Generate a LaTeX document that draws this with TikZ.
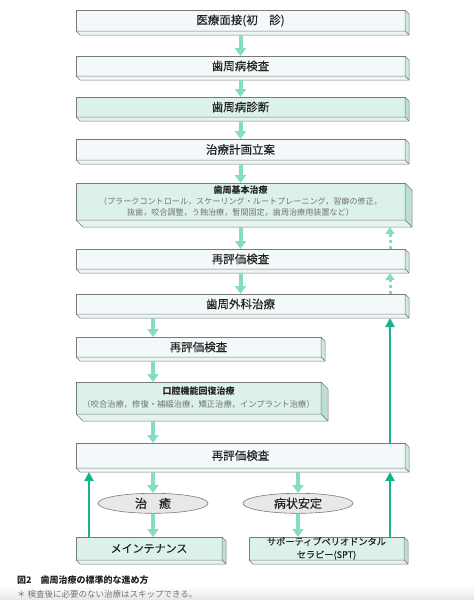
\documentclass[tikz,border=0pt]{standalone}
\usepackage{fontspec}
\newfontfamily\jp{Noto Sans CJK JP}
\newfontfamily\jpm{Noto Sans CJK JP}[FakeBold=0.12]
\usepackage{tikz}
\usetikzlibrary{positioning,calc,arrows.meta,shapes.geometric}
\definecolor{slabline}{HTML}{7A7A7A}
\definecolor{paleface}{HTML}{F3F9FA}
\definecolor{paleside}{HTML}{CFE7DF}
\definecolor{palebottom}{HTML}{EDF6F3}
\definecolor{mintface}{HTML}{DCF1EB}
\definecolor{mintside}{HTML}{BBDFD3}
\definecolor{mintbottom}{HTML}{E5F4EF}
\definecolor{mintarrow}{HTML}{85DCC4}
\definecolor{tealarrow}{HTML}{17B38F}
\definecolor{ovalfill}{HTML}{E8E8E8}
\definecolor{ovalline}{HTML}{7A7A7A}
\definecolor{labeltext}{HTML}{222222}
\definecolor{subgray}{HTML}{737373}
\def\SlabWidth{329pt}
\def\SlabNarrow{245pt}
\def\SlabDepth{4pt}
\def\SlabThick{7pt}
% side and bottom faces of a slab: node, depth, side colour, bottom colour
\newcommand{\slabfaces}[4]{%
  \filldraw[draw=slabline,line width=0.5pt,fill=#3,line join=round]
    (#1.north east) -- ++(#2,-#2) -- ($(#1.south east)+(#2,-#2)$) -- (#1.south east) -- cycle;
  \filldraw[draw=slabline,line width=0.5pt,fill=#4,line join=round]
    (#1.south west) -- (#1.south east) -- ++(#2,-#2) -- ($(#1.south west)+(#2,-#2)$) -- cycle;
}

\begin{document}
\begin{tikzpicture}[
    slab/.style={draw=slabline,line width=0.6pt,fill=paleface,minimum width=\SlabWidth,
      minimum height=21pt,inner sep=0pt,outer sep=0pt,text=labeltext,align=center,
      font=\jpm\fontsize{11.5}{14}\selectfont},
    mintslab/.style={slab,fill=mintface},
    subfont/.style={font=\jp\fontsize{8.1}{11}\selectfont},
    oval/.style={ellipse,draw=ovalline,fill=ovalfill,line width=0.6pt,minimum width=110pt,
      minimum height=20pt,inner sep=0pt,text=labeltext,font=\jpm\fontsize{12}{14}\selectfont},
    flow/.style={draw=mintarrow,line width=4pt,-{Triangle[width=11pt,length=8pt]}},
    back/.style={draw=tealarrow,line width=2.6pt,-{Triangle[width=9pt,length=9pt]}},
    skip/.style={draw=mintarrow,line width=3pt,dash pattern=on 3pt off 3pt,-{Triangle[width=9pt,length=7pt]}},
  ]
  \useasboundingbox (0,0) rectangle (474pt,-600pt);
  \shade[top color=white,bottom color=black!10] (0,-586pt) rectangle (474pt,-600pt);
  % 
  \node[slab] (iv) at (240.5pt,-20.5pt) {医療面接(初　診)};
  \node[slab,below=25pt of iv,minimum height=20pt] (ex) {歯周病検査};
  \node[mintslab,below=21pt of ex,minimum height=20pt] (dx) {歯周病診断};
  \node[slab,below=22pt of dx] (pl) {治療計画立案};
  \node[mintslab,subfont,below=23pt of pl,minimum height=37pt] (ini)
    {{\bfseries\fontsize{9}{11}\selectfont 歯周基本治療}\\
     {\color{subgray}（プラークコントロール，スケーリング・ルートプレーニング，習癖の修正，}\\
     {\color{subgray}抜歯，咬合調整，う蝕治療，暫間固定，歯周治療用装置など）}};
  \node[slab,below=29pt of ini,minimum height=20pt] (re1) {再評価検査};
  \node[slab,below=25pt of re1,minimum height=20pt] (su) {歯周外科治療};
  % 
  \node[slab,minimum width=\SlabNarrow,minimum height=20pt,below right=23pt and 0pt of su.south west] (re2) {再評価検査};
  \node[mintslab,font=\jp\fontsize{8.3}{13}\selectfont,minimum width=\SlabNarrow,minimum height=32pt,
    below right=25pt and 0pt of re2.south west] (oc)
    {{\bfseries\fontsize{9}{11}\selectfont 口腔機能回復治療}\\
     {\color{subgray}（咬合治療，修復・補綴治療，矯正治療，インプラント治療）}};
  \node[slab,minimum height=25pt,below right=29pt and 0pt of oc.south west] (re3) {再評価検査};
  % 
  \coordinate[right=77pt of re3.south west] (lc);
  \coordinate[right=222pt of re3.south west] (rc);
  \coordinate[right=13pt of re3.south west] (ul);
  \coordinate[left=15pt of re3.south east] (ur);
  % 
  \node[oval,below=25pt of lc] (heal) {治　癒};
  \node[oval,below=25pt of rc] (stab) {病状安定};
  \node[mintslab,minimum width=146pt,minimum height=23pt,font=\jpm\fontsize{11}{13}\selectfont,
    below right=69pt and 0pt of re3.south west] (mt) {メインテナンス};
  \node[mintslab,minimum width=155pt,minimum height=23pt,font=\jpm\fontsize{9.2}{13}\selectfont,
    right=27pt of mt] (spt) {サポーティブペリオドンタル\\セラピー(SPT)};
  % 
  \slabfaces{iv}{\SlabDepth}{paleside}{palebottom}
  \slabfaces{ex}{\SlabDepth}{paleside}{palebottom}
  \slabfaces{dx}{\SlabDepth}{mintside}{mintbottom}
  \slabfaces{pl}{\SlabDepth}{paleside}{palebottom}
  \slabfaces{ini}{\SlabThick}{mintside}{mintbottom}
  \slabfaces{re1}{\SlabDepth}{paleside}{palebottom}
  \slabfaces{su}{\SlabDepth}{paleside}{palebottom}
  \slabfaces{re2}{\SlabDepth}{paleside}{palebottom}
  \slabfaces{oc}{\SlabThick}{mintside}{mintbottom}
  \slabfaces{re3}{\SlabDepth}{paleside}{palebottom}
  \slabfaces{mt}{\SlabDepth}{mintside}{mintbottom}
  \slabfaces{spt}{\SlabDepth}{mintside}{mintbottom}
  % 
  \foreach \u/\v/\d in {iv/ex/\SlabDepth,ex/dx/\SlabDepth,dx/pl/\SlabDepth,pl/ini/\SlabDepth,
                        ini/re1/\SlabThick,re1/su/\SlabDepth}
    \draw[flow,shorten <=\d] (\u) -- (\v);
  \draw[flow,shorten <=\SlabDepth] (su.south -| lc) -- (re2.north -| lc);
  \draw[flow,shorten <=\SlabDepth] (re2.south -| lc) -- (oc.north -| lc);
  \draw[flow,shorten <=\SlabThick] (oc.south -| lc) -- (re3.north -| lc);
  \draw[flow,shorten <=\SlabDepth] (lc) -- (heal);
  \draw[flow] (heal) -- (mt.north -| heal);
  \draw[flow,shorten <=\SlabDepth] (rc) -- (stab);
  \draw[flow] (stab) -- (spt.north -| stab);
  % 
  \draw[back,shorten >=\SlabDepth] (mt.north -| ul) -- (ul);
  \draw[back,shorten >=\SlabDepth] (spt.north -| ur) -- (ur);
  \draw[back,shorten >=\SlabDepth] (re3.north -| ur) -- (su.south -| ur);
  \draw[skip,shorten >=\SlabThick] (re1.north -| ur) -- (ini.south -| ur);
  \draw[skip,shorten >=\SlabDepth] (su.north -| ur) -- (re1.south -| ur);
  % 
  \node[anchor=base west,inner sep=0pt,text=labeltext,font=\jp\bfseries\fontsize{9}{11}\selectfont]
    (cap) at (17pt,-583pt) {図2　歯周治療の標準的な進め方};
  \node[anchor=base west,inner sep=0pt,text=subgray,font=\jp\fontsize{8.5}{11}\selectfont]
    (note) at (17pt,-597pt) {＊ 検査後に必要のない治療はスキップできる。};
\end{tikzpicture}
\end{document}
